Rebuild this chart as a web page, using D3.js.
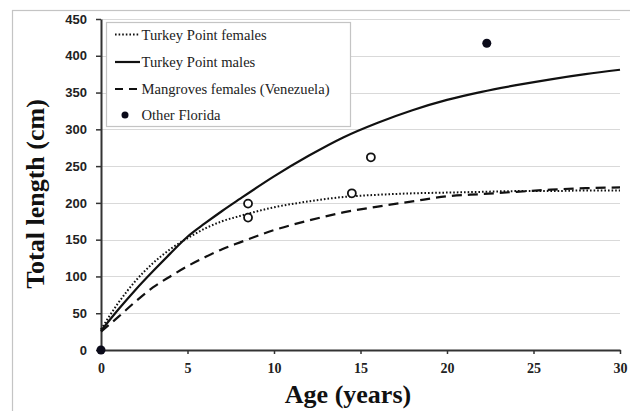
<!DOCTYPE html>
<html>
<head>
<meta charset="utf-8">
<script src="https://cdn.jsdelivr.net/npm/d3@7"></script>
<style>
  html, body { margin: 0; padding: 0; background: #fff; }
  svg { display: block; }
</style>
</head>
<body>
<svg id="chart" width="630" height="411"></svg>
<script>
// ---- data ----
const ages = [0, 1, 2, 3, 4, 5, 6, 7, 8, 10, 12, 14, 16, 18, 20, 22, 24, 26, 28, 30];
const turkeyPointFemales = [28, 64, 94, 118, 137, 152, 165, 175, 182, 194, 202, 208, 211, 213, 214, 215, 216, 216, 217, 217];
const turkeyPointMales   = [26, 55, 82, 107, 131, 154, 172, 189, 205, 236, 264, 289, 309, 326, 340, 351, 360, 368, 375, 381];
const mangrovesFemales   = [25, 45, 66, 85, 100, 114, 126, 137, 146, 163, 176, 187, 195, 202, 209, 212, 215, 218, 220, 221];
const openAges    = [8.5, 8.5, 14.5, 15.6];
const openLengths = [199, 180, 213, 262];
const floridaAges    = [0, 22.3];
const floridaLengths = [0, 417];
const yTicks = [0, 50, 100, 150, 200, 250, 300, 350, 400, 450];
const xTicks = [0, 5, 10, 15, 20, 25, 30];
const legendLabels = ["Turkey Point females", "Turkey Point males", "Mangroves females (Venezuela)", "Other Florida"];

// ---- drawing ----
const svg = d3.select("#chart");
const x = d3.scaleLinear().domain([0, 30]).range([101, 620]);
const y = d3.scaleLinear().domain([0, 450]).range([350, 19]);

// outer chart border
svg.append("rect").attr("x", 12.5).attr("y", 10.5).attr("width", 700).attr("height", 500)
  .attr("fill", "#fff").attr("stroke", "#c4c4c4").attr("stroke-width", 1.2);

// gridlines
svg.append("g").selectAll("line").data(yTicks.filter(d => d > 0)).join("line")
  .attr("x1", x(0)).attr("x2", x(30))
  .attr("y1", d => Math.round(y(d)) + 0.5).attr("y2", d => Math.round(y(d)) + 0.5)
  .attr("stroke", "#d9d9d9").attr("stroke-width", 1);

// axes
const yAxis = svg.append("g").attr("transform", `translate(${x(0)},0)`)
  .call(d3.axisLeft(y).tickValues(yTicks).tickSize(5).tickPadding(9).tickSizeOuter(0));
yAxis.select(".domain").attr("stroke", "#333").attr("stroke-width", 2);
yAxis.selectAll(".tick line").attr("stroke", "#333").attr("stroke-width", 1.5);
yAxis.selectAll("text").attr("font-family", "'Liberation Sans', Arial, sans-serif")
  .attr("font-weight", "bold").attr("font-size", 13).attr("fill", "#222");

const xAxis = svg.append("g").attr("transform", `translate(0,${y(0)})`)
  .call(d3.axisBottom(x).tickValues(xTicks).tickSize(4).tickPadding(9).tickSizeOuter(0));
xAxis.select(".domain").attr("stroke", "#333").attr("stroke-width", 2);
xAxis.selectAll(".tick line").attr("stroke", "#333").attr("stroke-width", 1.5);
xAxis.selectAll("text").attr("font-family", "'Liberation Serif', 'Times New Roman', serif")
  .attr("font-weight", "bold").attr("font-size", 14).attr("fill", "#222");

// axis titles
svg.append("text").attr("x", 348).attr("y", 403).attr("text-anchor", "middle")
  .attr("font-family", "'Liberation Serif', 'Times New Roman', serif").attr("font-weight", "bold")
  .attr("font-size", 26).attr("fill", "#111").text("Age (years)");
svg.append("text").attr("transform", "translate(44,194) rotate(-90)").attr("text-anchor", "middle")
  .attr("font-family", "'Liberation Serif', 'Times New Roman', serif").attr("font-weight", "bold")
  .attr("font-size", 26).attr("fill", "#111").text("Total length (cm)");

// curves
const line = d3.line().x(d => x(d[0])).y(d => y(d[1])).curve(d3.curveMonotoneX);
const styles = [
  { data: turkeyPointFemales, dash: "1.6,2", width: 2 },
  { data: turkeyPointMales, dash: null, width: 2.2 },
  { data: mangrovesFemales, dash: "10,6", width: 2.2 }
];
styles.forEach(s => {
  svg.append("path").datum(ages.map((a, i) => [a, s.data[i]]))
    .attr("d", line).attr("fill", "none").attr("stroke", "#111")
    .attr("stroke-width", s.width).attr("stroke-dasharray", s.dash);
});

// open circles
svg.append("g").selectAll("circle").data(openAges.map((a, i) => [a, openLengths[i]])).join("circle")
  .attr("cx", d => x(d[0])).attr("cy", d => y(d[1])).attr("r", 4)
  .attr("fill", "#fff").attr("stroke", "#111").attr("stroke-width", 1.8);

// Other Florida filled points
svg.append("g").selectAll("circle").data(floridaAges.map((a, i) => [a, floridaLengths[i]])).join("circle")
  .attr("cx", d => x(d[0])).attr("cy", d => y(d[1])).attr("r", 4.5)
  .attr("fill", "#0b0b1a");

// legend
const lg = svg.append("g");
lg.append("rect").attr("x", 106.5).attr("y", 22.5).attr("width", 244).attr("height", 104)
  .attr("fill", "#fff").attr("stroke", "#c4c4c4").attr("stroke-width", 1.2);
const rowY = [34.5, 62, 89, 115];
legendLabels.forEach((lab, i) => {
  if (i < 3) {
    lg.append("line").attr("x1", 115).attr("x2", 140).attr("y1", rowY[i]).attr("y2", rowY[i])
      .attr("stroke", "#111").attr("stroke-width", styles[i].width)
      .attr("stroke-dasharray", i === 2 ? "8,6" : styles[i].dash);
  } else {
    lg.append("circle").attr("cx", 125).attr("cy", rowY[i]).attr("r", 3.5).attr("fill", "#0b0b1a");
  }
  lg.append("text").attr("x", 141.5).attr("y", rowY[i]).attr("dy", "0.35em")
    .attr("font-family", "'Liberation Serif', 'Times New Roman', serif")
    .attr("font-size", 14.6).attr("fill", "#222").text(lab);
});
</script>
</body>
</html>
